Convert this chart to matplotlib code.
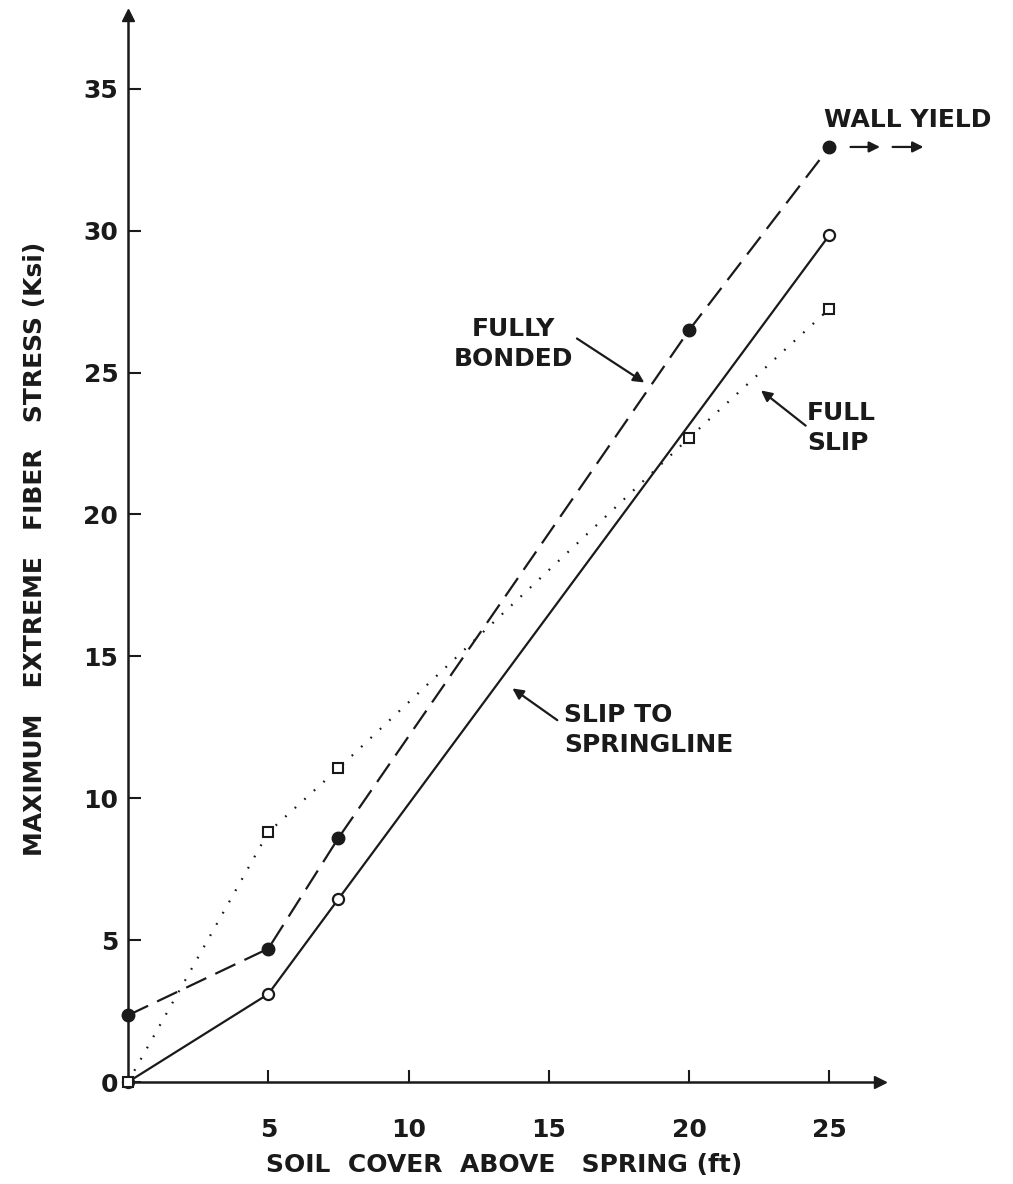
import matplotlib
matplotlib.use("Agg")
import matplotlib.pyplot as plt

# Data
x_bonded = [0, 5, 7.5, 20, 25]
y_bonded = [2.35, 4.7, 8.6, 26.5, 32.95]
x_spring = [0, 5, 7.5, 25]
y_spring = [0, 3.1, 6.45, 29.85]
x_slip = [0, 5, 7.5, 20, 25]
y_slip = [0, 8.8, 11.05, 22.7, 27.25]
xticks = [5, 10, 15, 20, 25]
yticks = [0, 5, 10, 15, 20, 25, 30, 35]

plt.rcParams['font.family'] = ['DejaVu Sans']
fig = plt.figure(figsize=(10.13, 11.84), dpi=100)
ax = fig.add_axes([128/1013, (1184-1082)/1184, 752/1013, 1067/1184])
ax.set_xlim(0, 26.8)
ax.set_ylim(0, 37.6)

c = '#1a1a1a'
ax.plot(x_bonded, y_bonded, color=c, lw=1.6, dashes=[10, 4.5], marker='o',
        markersize=9, markerfacecolor=c, markeredgecolor=c, clip_on=False, zorder=3)
ax.plot(x_spring, y_spring, color=c, lw=1.6, linestyle='-', marker='o',
        markersize=8, markerfacecolor='white', markeredgecolor=c, markeredgewidth=1.6,
        clip_on=False, zorder=3)
ax.plot(x_slip, y_slip, color=c, lw=1.6, linestyle=(0, (0.8, 5)), marker='s',
        markersize=7.5, markerfacecolor='white', markeredgecolor=c, markeredgewidth=1.5,
        clip_on=False, zorder=4)

for s in ['top', 'right']:
    ax.spines[s].set_visible(False)
for s in ['left', 'bottom']:
    ax.spines[s].set_linewidth(1.8)
    ax.spines[s].set_color(c)
ax.plot(1, 0, marker='>', color=c, markersize=9, transform=ax.transAxes, clip_on=False)
ax.plot(0, 1, marker='^', color=c, markersize=9, transform=ax.transAxes, clip_on=False)

ax.set_xticks(xticks)
ax.set_xticklabels([str(v) for v in xticks])
ax.set_yticks(yticks)
ax.set_yticklabels([str(v) for v in yticks])
ax.tick_params(direction='in', length=9, width=1.5, color=c, labelsize=18,
               labelcolor=c)
for lab in ax.get_xticklabels() + ax.get_yticklabels():
    lab.set_fontweight('bold')
ax.tick_params(axis='x', pad=26)
ax.tick_params(axis='y', pad=7)

ax.set_xlabel('SOIL  COVER  ABOVE   SPRING (ft)', fontsize=18, fontweight='bold',
              color=c, labelpad=8)
ax.set_ylabel('MAXIMUM   EXTREME   FIBER   STRESS (Ksi)', fontsize=18,
              fontweight='bold', color=c, labelpad=26)

tfs = 18
ax.text(24.8, 33.9, 'WALL YIELD', fontsize=tfs, fontweight='bold', color=c,
        ha='left', va='center')
ax.text(13.75, 26.0, 'FULLY\nBONDED', fontsize=tfs, fontweight='bold', color=c,
        ha='center', va='center', linespacing=1.3, multialignment='center')
ax.text(24.2, 23.05, 'FULL\nSLIP', fontsize=tfs, fontweight='bold', color=c,
        ha='left', va='center', linespacing=1.3)
ax.text(15.55, 12.4, 'SLIP TO\nSPRINGLINE', fontsize=tfs, fontweight='bold', color=c,
        ha='left', va='center', linespacing=1.3)

ap = dict(arrowstyle='-|>', color=c, lw=1.6, mutation_scale=16, shrinkA=0, shrinkB=0)
ax.annotate('', xy=(18.4, 24.65), xytext=(16.0, 26.2), arrowprops=ap, annotation_clip=False)
ax.annotate('', xy=(22.56, 24.37), xytext=(24.15, 23.13), arrowprops=ap, annotation_clip=False)
ax.annotate('', xy=(13.7, 13.87), xytext=(15.3, 12.75), arrowprops=ap, annotation_clip=False)
ax.annotate('', xy=(26.8, 32.95), xytext=(25.75, 32.95), arrowprops=ap, annotation_clip=False)
ax.annotate('', xy=(28.35, 32.95), xytext=(27.25, 32.95), arrowprops=ap, annotation_clip=False)

fig.savefig('out.png', dpi=100, facecolor='white')
